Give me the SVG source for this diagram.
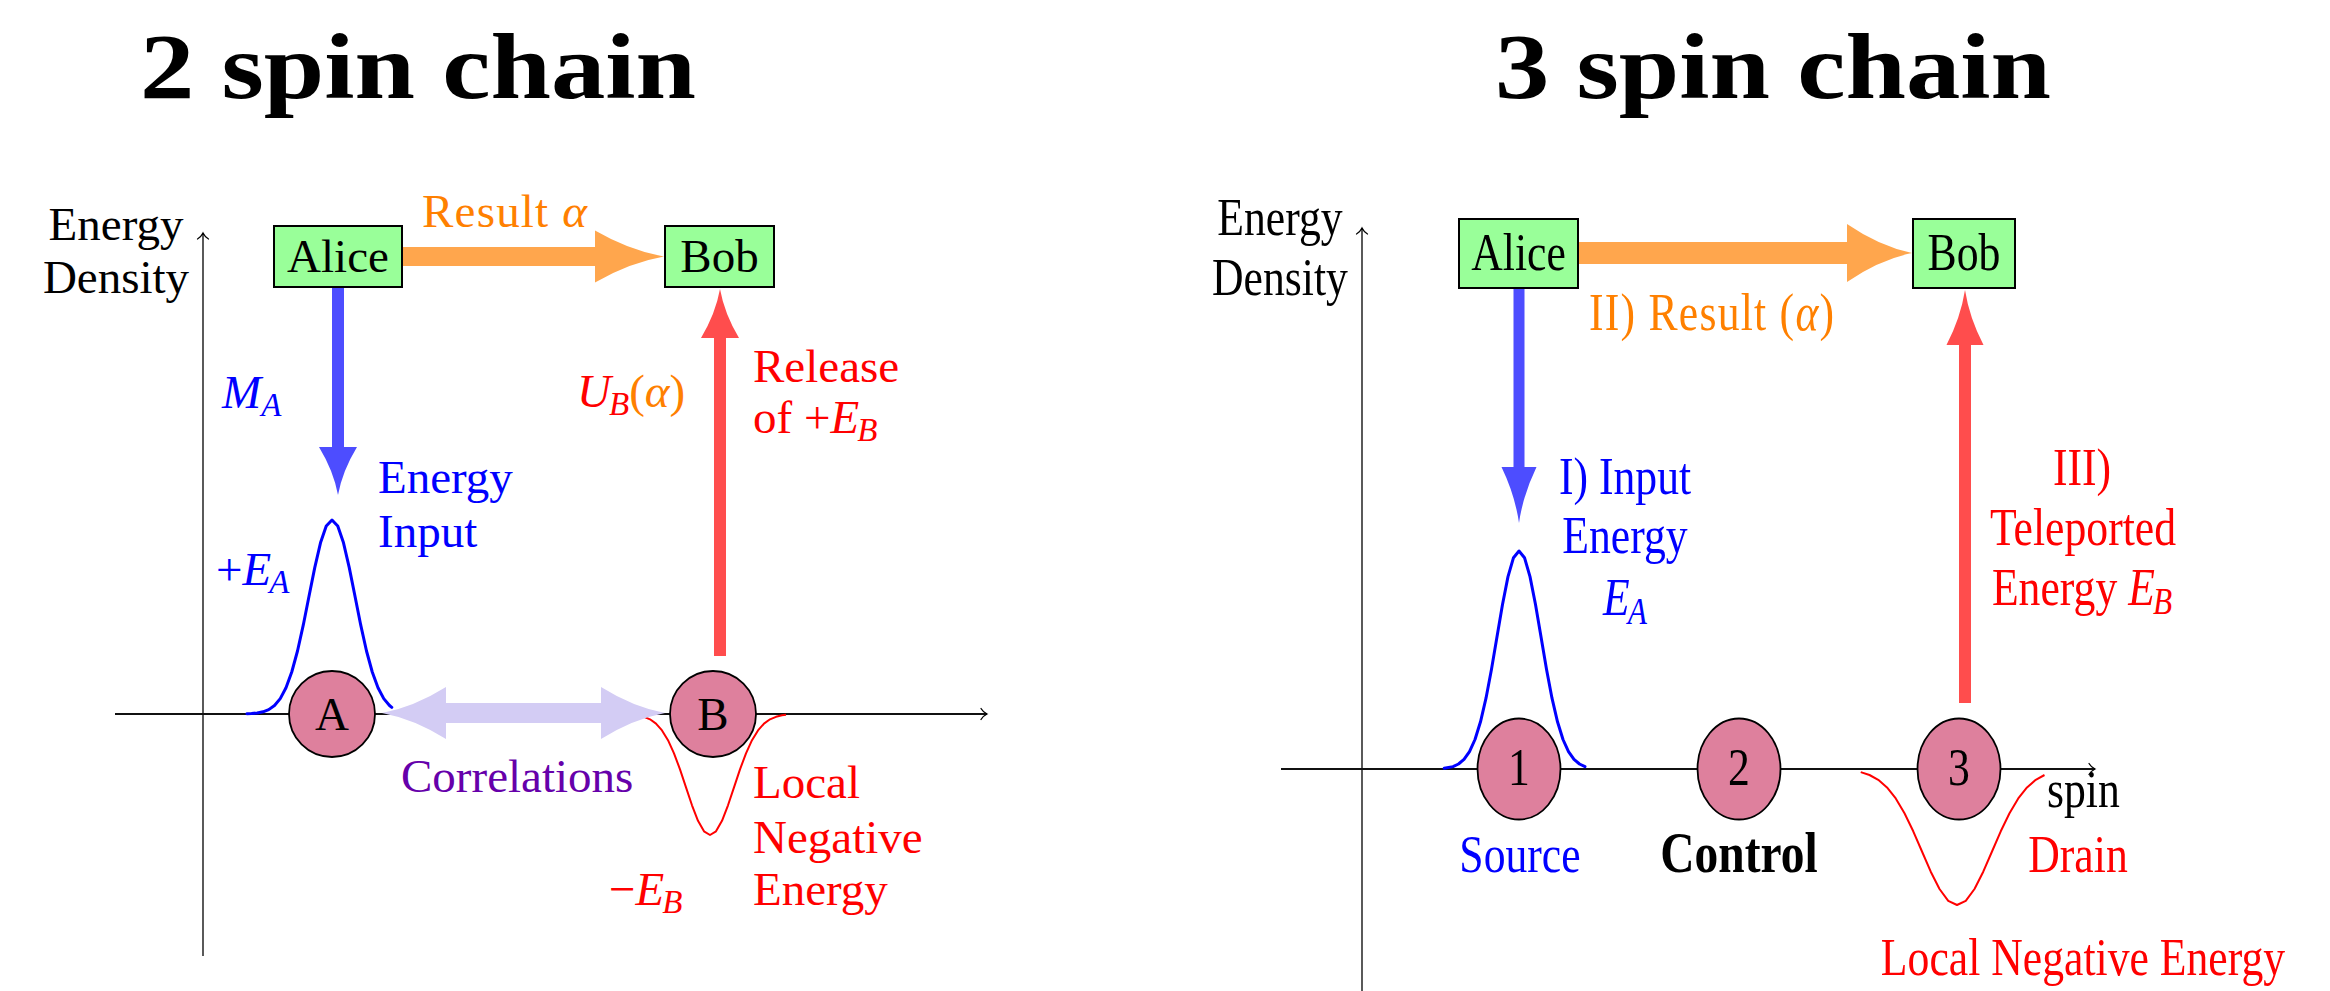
<svg xmlns="http://www.w3.org/2000/svg" width="2330" height="991" viewBox="0 0 2330 991">
<defs>
<style>
text{font-family:"Liberation Serif","Times New Roman",serif;font-size:47px;fill:#000}
.r text, text.r{font-size:46px}
.ti{font-style:italic}
.sub{font-size:33px;font-style:italic}
.title{font-weight:bold;font-size:93px}
.blue{fill:#0000FF}
.red{fill:#FF0000}
.org{fill:#FF8000}
.pur{fill:#6600AA}
.box{fill:#99FF99;stroke:#000;stroke-width:2}
.spin{fill:#DE809D;stroke:#000;stroke-width:1.8}
.axis{fill:none;stroke:#000;stroke-width:1.3}
.xaxis{fill:none;stroke:#111;stroke-width:2.2}
.bcurve{fill:none;stroke:#0000FF;stroke-width:3;stroke-linejoin:round;stroke-linecap:round}
.rcurve{fill:none;stroke:#FF0000;stroke-width:2;stroke-linejoin:round}
</style>
<marker id="to" viewBox="-8 -7 10 14" refX="0" refY="0" markerWidth="10" markerHeight="14" markerUnits="userSpaceOnUse" orient="auto">
<path d="M-6,-5.5 C-4,-2 -1,-0.5 0,0 C-1,0.5 -4,2 -6,5.5" fill="none" stroke="#000" stroke-width="1.3" stroke-linecap="round"/>
</marker>
</defs>
<rect width="2330" height="991" fill="#fff"/>

<g id="titles">
<text class="title" x="140" y="98" textLength="556" lengthAdjust="spacingAndGlyphs">2 spin chain</text>
<text class="title" x="1495" y="98" textLength="556" lengthAdjust="spacingAndGlyphs">3 spin chain</text>
</g>

<g id="axes">
<line class="axis" x1="203" y1="956" x2="203" y2="233" marker-end="url(#to)"/>
<line class="xaxis" x1="115" y1="714" x2="987" y2="714" marker-end="url(#to)"/>
<line class="axis" x1="1362" y1="991" x2="1362" y2="228" marker-end="url(#to)"/>
<line class="xaxis" x1="1281" y1="769" x2="2095" y2="769" marker-end="url(#to)"/>
</g>

<g id="energy-curves">
<polyline class="bcurve" points="246.9,713.8 251.5,713.6 257.25,713 263,711.8 268.75,709.6 274.5,705.5 280.25,698.6 286,687.8 291.75,672 297.5,651 303.25,625.2 309,596.3 314.75,567.6 320.5,542.8 326.25,526 332,520 337.75,526 343.5,542.8 349.25,567.6 355,596.3 360.75,625.2 366.5,651 372.25,672 378,687.8 383.75,698.6 389.5,705.5 391.8,707.4"/>
<polyline class="rcurve" points="644,716.8 650,719.3 656,723.6 662,730.4 668,740.2 674,753.3 680,769.4 686,787.4 692,805.3 698,820.8 704,831.3 710,835 716,831.3 722,820.8 728,805.3 734,787.4 740,769.4 746,753.3 752,740.2 758,730.4 764,723.6 770,719.3 776,716.8 782,715.3 786,714.8"/>
<polyline class="bcurve" points="1444.2,768.3 1453,766.6 1458.5,764 1464,759.4 1469.5,751.6 1475,739.5 1480.5,721.8 1486,698.2 1491.5,669.2 1497,636.8 1502.5,604.5 1508,576.6 1513.5,557.7 1519,551 1524.5,557.7 1530,576.6 1535.5,604.5 1541,636.8 1546.5,669.2 1552,698.2 1557.5,721.8 1563,739.5 1568.5,751.6 1574,759.4 1579.5,764 1585,766.6"/>
<polyline class="rcurve" points="1860.75,772.1 1869.5,775 1878.25,779.8 1887,787.4 1895.75,798.4 1904.5,813.2 1913.25,831.3 1922,851.5 1930.75,871.7 1939.5,889 1948.25,900.8 1957,905 1965.75,900.8 1974.5,889 1983.25,871.7 1992,851.5 2000.75,831.3 2009.5,813.2 2018.25,798.4 2027,787.4 2035.75,779.8 2044.5,775"/>
</g>

<g id="connectors">
<path id="c-result-2" fill="#FFA64D" d="M402,247 L595,247 L595,230.5 Q629.5,250.5 664,256.5 Q629.5,262.5 595,282.5 L595,266 L402,266 Z"/>
<path id="c-ma" fill="#4D4DFF" d="M332,287 L344,287 L344,447 L357,447 Q342.4,471 338,495 Q333.6,471 319,447 L332,447 Z"/>
<path id="c-ub" fill="#FF4D4D" d="M714,656 L726,656 L726,338 L739,338 Q724.4,313.5 720,289 Q715.6,313.5 701,338 L714,338 Z"/>
<path id="c-corr" fill="#D3CCF4" d="M382,713 Q414,707 446,687 L446,703 L601,703 L601,687 Q633,707 665,713 Q633,719 601,739 L601,723 L446,723 L446,739 Q414,719 382,713 Z"/>
<path id="c-result-3" fill="#FFA64D" d="M1578,242 L1847,242 L1847,224 Q1879.5,246.3 1912,253 Q1879.5,259.7 1847,282 L1847,264 L1578,264 Z"/>
<path id="c-input-3" fill="#4D4DFF" d="M1513.5,288 L1524.5,288 L1524.5,467 L1536.5,467 Q1523,495 1519,523 Q1515,495 1501.5,467 L1513.5,467 Z"/>
<path id="c-tele-3" fill="#FF4D4D" d="M1959,703 L1971,703 L1971,345 L1983.5,345 Q1969.3,317.5 1965,290 Q1960.7,317.5 1946.5,345 L1959,345 Z"/>
</g>

<g id="alice-2"><rect class="box" x="274" y="226" width="128" height="61"/><text x="338" y="272" text-anchor="middle">Alice</text></g>
<g id="bob-2"><rect class="box" x="665" y="226" width="109" height="61"/><text x="719.5" y="272" text-anchor="middle">Bob</text></g>
<g id="spin-a"><circle class="spin" cx="332" cy="714" r="43"/><text x="332" y="730" text-anchor="middle">A</text></g>
<g id="spin-b"><circle class="spin" cx="713" cy="714" r="43"/><text x="713" y="730" text-anchor="middle">B</text></g>

<g id="alice-3" class="r"><rect class="box" x="1459" y="219" width="119" height="69"/><text transform="translate(1518.5,270) scale(0.95,1.15)" text-anchor="middle">Alice</text></g>
<g id="bob-3" class="r"><rect class="box" x="1913" y="219" width="102" height="69"/><text transform="translate(1964,270) scale(0.95,1.15)" text-anchor="middle">Bob</text></g>
<g id="spin-1" class="r"><ellipse class="spin" cx="1519" cy="769" rx="41.5" ry="50.5"/><text transform="translate(1519,785) scale(0.95,1.15)" text-anchor="middle">1</text></g>
<g id="spin-2" class="r"><ellipse class="spin" cx="1739" cy="769" rx="41.5" ry="50.5"/><text transform="translate(1739,785) scale(0.95,1.15)" text-anchor="middle">2</text></g>
<g id="spin-3" class="r"><ellipse class="spin" cx="1959" cy="769" rx="41.5" ry="50.5"/><text transform="translate(1959,785) scale(0.95,1.15)" text-anchor="middle">3</text></g>

<g id="labels-2">
<text x="116" y="240" text-anchor="middle">Energy</text>
<text x="116" y="293" text-anchor="middle">Density</text>
<text class="org" x="422" y="227" textLength="165">Result <tspan class="ti">α</tspan></text>
<text class="blue" x="222" y="408"><tspan class="ti">M</tspan><tspan class="sub" dy="8">A</tspan></text>
<text class="blue" x="378" y="493">Energy</text>
<text class="blue" x="378" y="547">Input</text>
<text class="blue" x="216" y="585">+<tspan class="ti">E</tspan><tspan class="sub" dx="-2" dy="8">A</tspan></text>
<text class="red" x="577" y="407"><tspan class="ti">U</tspan><tspan class="sub" dx="-2" dy="8">B</tspan><tspan class="org" dy="-8">(</tspan><tspan class="org ti">α</tspan><tspan class="org">)</tspan></text>
<text class="red" x="753" y="382">Release</text>
<text class="red" x="753" y="433">of +<tspan class="ti">E</tspan><tspan class="sub" dx="-2" dy="8">B</tspan></text>
<text class="pur" x="401" y="792">Correlations</text>
<text class="red" x="753" y="798">Local</text>
<text class="red" x="753" y="853">Negative</text>
<text class="red" x="753" y="905">Energy</text>
<text class="red" x="609" y="905">−<tspan class="ti">E</tspan><tspan class="sub" dx="-2" dy="8">B</tspan></text>
</g>

<g id="labels-3" class="r">
<text transform="translate(1280,235) scale(0.95,1.15)" text-anchor="middle">Energy</text>
<text transform="translate(1280,295) scale(0.95,1.15)" text-anchor="middle">Density</text>
<text class="org" transform="translate(1589,330) scale(0.95,1.15)" textLength="258">II) Result (<tspan class="ti">α</tspan>)</text>
<text class="blue" transform="translate(1625,494) scale(0.95,1.15)" text-anchor="middle">I) Input</text>
<text class="blue" transform="translate(1625,553) scale(0.95,1.15)" text-anchor="middle">Energy</text>
<text class="blue" transform="translate(1625,615) scale(0.95,1.15)" text-anchor="middle"><tspan class="ti">E</tspan><tspan class="sub" dx="-2" dy="8">A</tspan></text>
<text class="red" transform="translate(2082,485) scale(0.95,1.15)" text-anchor="middle">III)</text>
<text class="red" transform="translate(2083,545) scale(0.95,1.15)" text-anchor="middle">Teleported</text>
<text class="red" transform="translate(2082,605) scale(0.95,1.15)" text-anchor="middle">Energy <tspan class="ti">E</tspan><tspan class="sub" dx="-2" dy="8">B</tspan></text>
<text class="blue" transform="translate(1520,872) scale(0.95,1.15)" text-anchor="middle">Source</text>
<text transform="translate(1739,872) scale(0.95,1.15)" text-anchor="middle" font-weight="bold" style="font-size:50px">Control</text>
<text class="red" transform="translate(2078,872) scale(0.95,1.15)" text-anchor="middle">Drain</text>
<text transform="translate(2047,807) scale(0.95,1.15)">spin</text>
<text class="red" transform="translate(2083,975) scale(0.95,1.15)" text-anchor="middle">Local Negative Energy</text>
</g>
</svg>
